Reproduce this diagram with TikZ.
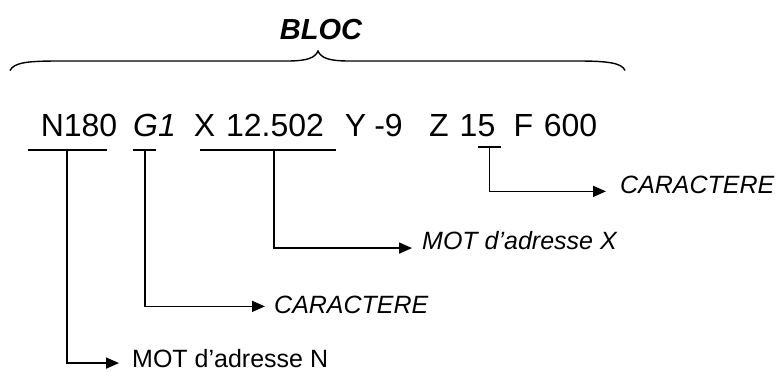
\documentclass[tikz,border=0pt]{standalone}
\usepackage{fontspec}
\setmainfont{Liberation Sans}
\usetikzlibrary{arrows.meta}
\begin{document}
\begin{tikzpicture}[x=1pt,y=-1pt,
  ln/.style={line width=1.7pt},
  arr/.style={line width=1.7pt,-{Triangle[length=13pt,width=11pt]}},
  tok/.style={anchor=base,inner sep=0pt,font=\fontsize{32}{36}\selectfont},
  lab/.style={anchor=base west,inner sep=0pt,font=\fontsize{25}{30}\selectfont\itshape},
  labup/.style={anchor=base west,inner sep=0pt,font=\fontsize{25}{30}\selectfont},
  ttl/.style={anchor=base,inner sep=0pt,font=\fontsize{29}{34}\selectfont\bfseries\itshape}]
\useasboundingbox (0,0) rectangle (779,372);

% title and brace
\node[ttl] (bloc) at (321,39) {BLOC};
\draw[line width=1.4pt] (10,70.5) .. controls (14,62) and (30,61) .. (60,61) -- (287,61)
  .. controls (307,61) and (315,58) .. (318,51)
  .. controls (321,58) and (329,61) .. (349,61) -- (578,61)
  .. controls (608,61) and (622,63) .. (625,70.5);

% program line
\node[tok] (tN)  at (79,136)    {N180};
\node[tok] (tG)  at (154.5,136) {\itshape G1};
\node[tok] (tX)  at (204.5,136) {X};
\node[tok] (tXv) at (275,136)   {12.502};
\node[tok] (tY)  at (355.5,136) {Y};
\node[tok] (tYv) at (388.5,136) {-9};
\node[tok] (tZ)  at (439,136)   {Z};
\node[tok] (tZv) at (477.5,136) {15};
\node[tok] (tF)  at (523.5,136) {F};
\node[tok] (tFv) at (570.5,136) {600};

% labels
\node[lab]   (lC2) at (620,193) {CARACTERE};
\node[lab]   (lX)  at (422,249) {MOT d’adresse X};
\node[lab]   (lG)  at (274,313) {CARACTERE};
\node[labup] (lN)  at (132,367) {MOT d’adresse N};

% underlines
\coordinate (uN1) at (28,150);  \coordinate (uN2) at (107,150); \coordinate (sN) at (67,150);
\coordinate (uG1) at (133,150); \coordinate (uG2) at (156,150); \coordinate (sG) at (145,150);
\coordinate (uX1) at (200,150); \coordinate (uX2) at (336,150); \coordinate (sX) at (274,150);
\coordinate (uZ1) at (478,147); \coordinate (uZ2) at (501,147); \coordinate (sZ) at (489.5,147);
\draw[ln] (uN1) -- (uN2);
\draw[ln] (uG1) -- (uG2);
\draw[ln] (uX1) -- (uX2);
\draw[ln] (uZ1) -- (uZ2);

% connectors
\draw[arr] (sZ) |- ([xshift=-14pt,yshift=-7pt]lC2.west);
\draw[arr] (sX) |- ([xshift=-10pt,yshift=-8pt]lX.west);
\draw[arr] (sG) |- ([xshift=-9pt,yshift=-2pt]lG.west);
\draw[arr] (sN) |- ([xshift=-13pt,yshift=-5pt]lN.west);
\end{tikzpicture}
\end{document}
